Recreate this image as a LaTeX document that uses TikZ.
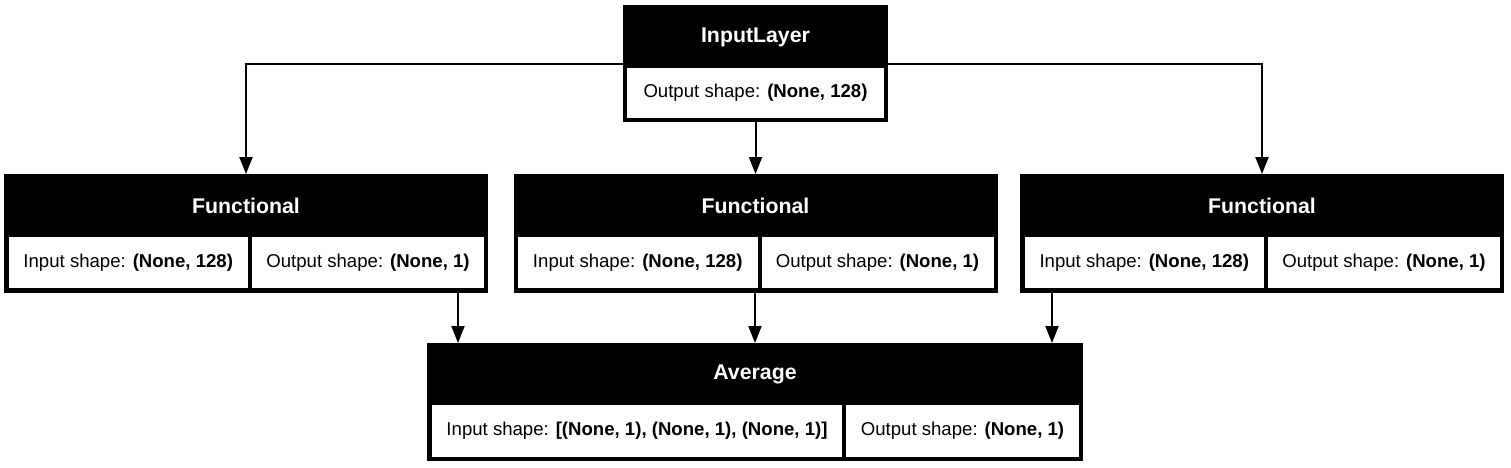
\documentclass[tikz,border=0pt]{standalone}
\usepackage{fontspec}
\setmainfont{Liberation Sans}
\usetikzlibrary{arrows.meta,calc}
\begin{document}
\begin{tikzpicture}[x=1pt,y=-1pt,
  layerbox/.style={fill=black,inner sep=0pt,outer sep=0pt,anchor=north west,minimum width=#1},
  hdrtext/.style={text=white,inner sep=0pt,font=\fontsize{21.3}{24}\selectfont\bfseries},
  cellbox/.style={fill=white,inner sep=0pt,outer sep=0pt,anchor=north west,minimum width=#1,
     font=\fontsize{18.6}{22}\selectfont},
  arr/.style={line width=2pt,-{Triangle[width=13pt,length=17pt]}}]
\useasboundingbox[fill=white] (0,0) rectangle (1511,467);
% InputLayer
\node[layerbox=265pt,minimum height=117pt] (inp) at (623,5) {};
\node[hdrtext] (inph) at (755.5,37) {InputLayer};
\node[cellbox=257pt,minimum height=50pt] (inpo) at (627,68) {Output shape: \textbf{(None, 128)}};
% Functional 1
\node[layerbox=484pt,minimum height=119pt] (f1) at (4,174) {};
\node[hdrtext] (f1h) at (246,205.5) {Functional};
\node[cellbox=239.5pt,minimum height=51pt] (f1i) at (8.5,237) {Input shape: \textbf{(None, 128)}};
\node[cellbox=232pt,minimum height=51pt] (f1o) at (252,237) {Output shape: \textbf{(None, 1)}};
% Functional 2
\node[layerbox=484pt,minimum height=119pt] (f2) at (513.5,174) {};
\node[hdrtext] (f2h) at (755.5,205.5) {Functional};
\node[cellbox=239.5pt,minimum height=51pt] (f2i) at (518,237) {Input shape: \textbf{(None, 128)}};
\node[cellbox=232pt,minimum height=51pt] (f2o) at (761.5,237) {Output shape: \textbf{(None, 1)}};
% Functional 3
\node[layerbox=484pt,minimum height=119pt] (f3) at (1020,174) {};
\node[hdrtext] (f3h) at (1262,205.5) {Functional};
\node[cellbox=239.5pt,minimum height=51pt] (f3i) at (1024.5,237) {Input shape: \textbf{(None, 128)}};
\node[cellbox=232pt,minimum height=51pt] (f3o) at (1268,237) {Output shape: \textbf{(None, 1)}};
% Average
\node[layerbox=656pt,minimum height=118pt] (avg) at (427,343) {};
\node[hdrtext] (avgh) at (755,374) {Average};
\node[cellbox=410pt,minimum height=52pt] (avgi) at (432,405) {Input shape: \textbf{[(None, 1), (None, 1), (None, 1)]}};
\node[cellbox=233pt,minimum height=52pt] (avgo) at (846,405) {Output shape: \textbf{(None, 1)}};
% connectors
\coordinate (c1) at (458,0);
\coordinate (c3) at (1052,0);
\draw[arr] (inp.west) -| (f1.north);
\draw[arr] (inp.south) -- (f2.north);
\draw[arr] (inp.east) -| (f3.north);
\draw[arr] (f1.south -| c1) -- (avg.north -| c1);
\draw[arr] (f2.south -| avg.north) -- (avg.north);
\draw[arr] (f3.south -| c3) -- (avg.north -| c3);
\end{tikzpicture}
\end{document}
